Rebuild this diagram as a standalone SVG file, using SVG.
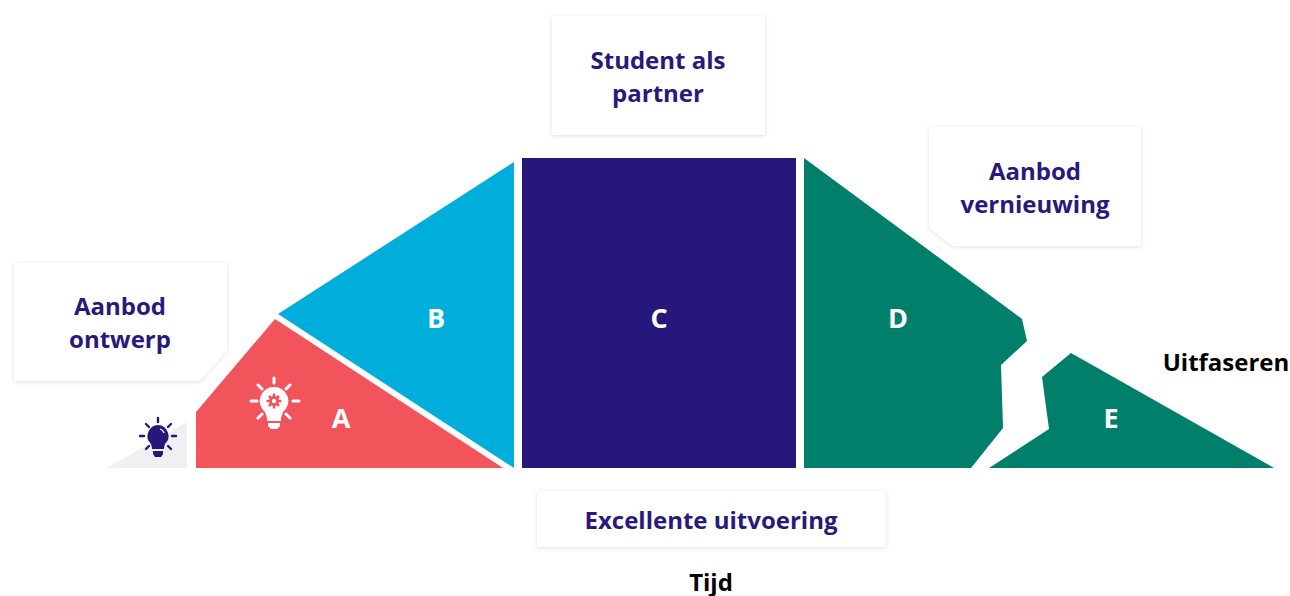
<svg xmlns="http://www.w3.org/2000/svg" width="1290" height="596" viewBox="0 0 1290 596">
<defs><filter id="s" x="-10%" y="-10%" width="120%" height="120%"><feDropShadow dx="0" dy="1" stdDeviation="2" flood-color="#000" flood-opacity="0.12"/></filter></defs>
<style>
.p{font:700 24px "Open Sans",sans-serif;fill:#28197c;text-anchor:middle}
.l{font:700 27px "Open Sans",sans-serif;fill:#fff;text-anchor:middle}
.k{font:700 24px "Open Sans",sans-serif;fill:#000;text-anchor:middle}
.b{fill:#fff;filter:url(#s)}
.i{fill:none;stroke-width:3;stroke-linecap:round}
</style>
<rect width="1290" height="596" fill="#fff"/>
<g id="shapes">
<path id="pre" d="M107 468L187 422V468Z" fill="#f0f0f2"/>
<path d="M196 468V412L275 319L503 468Z" fill="#f2545b"/>
<path d="M278 314L514 162V468Z" fill="#00aedb"/>
<rect x="522" y="158" width="274" height="310" fill="#26187a"/>
<path d="M804 158L1022 319L1027 341L1001 365L1003 428L971 468H804Z" fill="#007f6b"/>
<path d="M989 468L1049 429L1042 377L1071 353L1274 468Z" fill="#007f6b"/>
</g>
<g id="boxes">
<path class="b" d="M552 16H765V135H552Z"/>
<path class="b" d="M929 127H1141V246H953L929 228Z"/>
<path class="b" d="M14 263H227V350L200 381H14Z"/>
<rect class="b" x="537" y="491" width="349" height="56"/>
</g>
<g id="icons">
<g id="bulb-white">
<path d="M274 387a14 14 0 0 1 9 25l-2 6v3h-14v-3l-2-6a14 14 0 0 1 9-25Z" fill="#fff"/>
<path d="M268 423h12v3l-3 3h-6l-3-3Z" fill="#fff"/>
<g class="i" stroke="#fff"><path d="M274 378v5M251 401h6M293 401h6M258 385l4 4M290 385l-4 4M258 418l4-4M290 418l-4-4"/></g>
<circle cx="274" cy="401" r="5" fill="#f2545b"/>
<path d="M274 393.500v15M266.500 401h15M269 396l10 10M279 396l-10 10" stroke="#f2545b" stroke-width="2.500"/>
<circle cx="274" cy="401" r="2.200" fill="#fff"/>
</g>
<g id="bulb-dark">
<path d="M158 425a11 11 0 0 1 7 19l-1 4v1h-12v-1l-1-4a11 11 0 0 1 7-19Z" fill="#26187a"/>
<path d="M153 451h10v3l-2 3h-6l-2-3Z" fill="#26187a"/>
<path d="M160 429a6 6 0 0 1 4 4" fill="none" stroke="#fff" stroke-width="1.300"/>
<g class="i" stroke="#26187a" style="stroke-width:2.400"><path d="M158 418v4M140 436h4M172 436h4M146 424l3 3M171 424l-3 3M146 449l3-3M171 449l-3-3"/></g>
</g>
</g>
<g id="labels">
<text class="p" x="658" y="69">Student als</text><text class="p" x="658" y="102">partner</text>
<text class="p" x="1035" y="180">Aanbod</text><text class="p" x="1035" y="212.500">vernieuwing</text>
<text class="p" x="120" y="315">Aanbod</text><text class="p" x="120" y="348">ontwerp</text>
<text class="p" x="711" y="528.500">Excellente uitvoering</text>
<text class="k" x="711" y="591">Tijd</text><text class="k" x="1226" y="371">Uitfaseren</text>
<text class="l" x="341" y="428">A</text><text class="l" x="436" y="328">B</text><text class="l" x="659" y="328">C</text><text class="l" x="898" y="328">D</text><text class="l" x="1111" y="428">E</text>
</g>
</svg>
